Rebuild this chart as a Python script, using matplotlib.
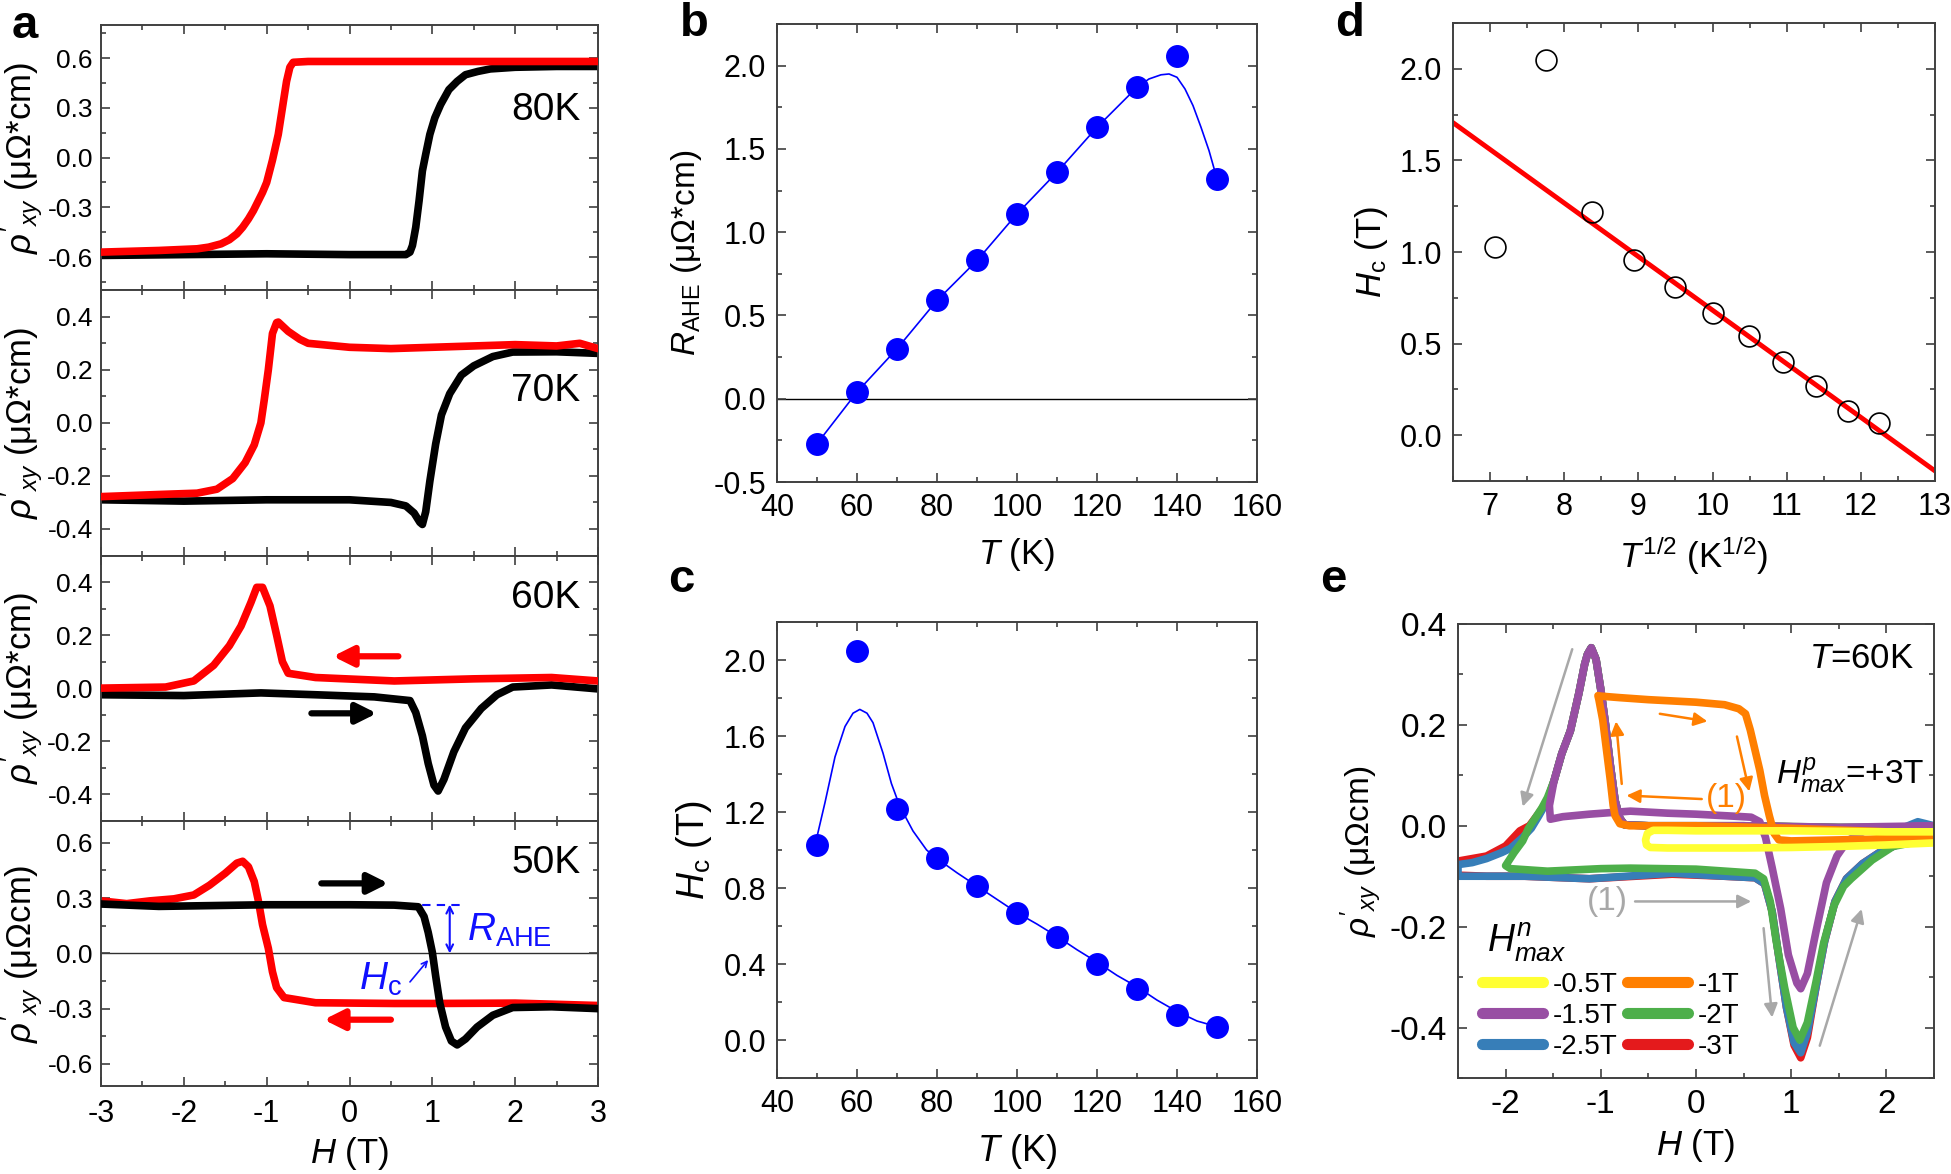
import matplotlib
matplotlib.use("Agg")
import matplotlib.pyplot as plt
from matplotlib.lines import Line2D
from matplotlib.ticker import MultipleLocator, FuncFormatter

plt.rcParams['font.family'] = ['Liberation Sans', 'DejaVu Sans']
plt.rcParams['mathtext.fontset'] = 'custom'
plt.rcParams['mathtext.rm'] = 'Liberation Sans'
plt.rcParams['mathtext.it'] = 'Liberation Sans:italic'
plt.rcParams['mathtext.bf'] = 'Liberation Sans:bold'
plt.rcParams['axes.linewidth'] = 1.4
plt.rcParams['axes.edgecolor'] = '#404040'
plt.rcParams['axes.unicode_minus'] = False

# ---------------- data: panel a ----------------
H80_up = [-3, -2, -1, 0, 0.5, 0.68, 0.73, 0.76, 0.80, 0.84, 0.88, 0.92, 0.97, 1.03, 1.1, 1.2, 1.3, 1.4, 1.55, 1.7, 2.0, 2.5, 3.0]
r80_up = [-0.59, -0.585, -0.58, -0.585, -0.585, -0.585, -0.57, -0.53, -0.42, -0.26, -0.08, 0.02, 0.14, 0.24, 0.32, 0.41, 0.46, 0.5, 0.52, 0.535, 0.545, 0.55, 0.55]
H80_dn = [3, 2, 1, 0, -0.5, -0.68, -0.72, -0.76, -0.81, -0.86, -0.93, -1.0, -1.05, -1.1, -1.16, -1.22, -1.29, -1.36, -1.45, -1.55, -1.7, -1.84, -2.3, -3]
r80_dn = [0.58, 0.58, 0.58, 0.58, 0.58, 0.575, 0.545, 0.46, 0.30, 0.14, -0.015, -0.15, -0.21, -0.26, -0.32, -0.37, -0.42, -0.46, -0.495, -0.52, -0.54, -0.55, -0.56, -0.57]

H70_up = [-3, -2, -1, 0, 0.5, 0.68, 0.78, 0.85, 0.88, 0.92, 0.97, 1.04, 1.11, 1.21, 1.35, 1.5, 1.73, 1.97, 2.5, 3]
r70_up = [-0.29, -0.295, -0.29, -0.29, -0.3, -0.313, -0.34, -0.375, -0.383, -0.335, -0.22, -0.08, 0.03, 0.11, 0.18, 0.215, 0.25, 0.267, 0.268, 0.262]
H70_dn = [3, 2.78, 2.5, 2, 1, 0.5, 0, -0.5, -0.6, -0.74, -0.86, -0.88, -0.93, -0.98, -1.03, -1.07, -1.15, -1.26, -1.41, -1.6, -1.84, -2.3, -3]
r70_dn = [0.28, 0.30, 0.29, 0.295, 0.285, 0.28, 0.285, 0.30, 0.315, 0.345, 0.38, 0.378, 0.337, 0.2, 0.085, 0.0, -0.083, -0.15, -0.21, -0.25, -0.265, -0.27, -0.278]

H60_up = [-3, -2, -1.07, -0.41, 0.3, 0.73, 0.8, 0.88, 0.95, 1.02, 1.07, 1.14, 1.26, 1.4, 1.59, 1.78, 1.97, 2.44, 3]
r60_up = [-0.025, -0.028, -0.018, -0.025, -0.033, -0.047, -0.092, -0.18, -0.284, -0.366, -0.388, -0.344, -0.24, -0.15, -0.077, -0.025, 0.004, 0.012, -0.003]
H60_dn = [3, 2.44, 1.5, 0.54, -0.41, -0.74, -0.81, -0.88, -0.96, -1.05, -1.12, -1.19, -1.31, -1.45, -1.64, -1.88, -2.22, -3]
r60_dn = [0.027, 0.04, 0.035, 0.027, 0.04, 0.056, 0.10, 0.20, 0.31, 0.38, 0.38, 0.323, 0.234, 0.16, 0.086, 0.027, 0.004, 0.0]

H50_up = [-3, -2.3, -1, 0, 0.54, 0.83, 0.9, 0.95, 1.0, 1.04, 1.09, 1.16, 1.23, 1.3, 1.4, 1.54, 1.73, 1.97, 2.44, 3]
r50_up = [0.268, 0.255, 0.264, 0.264, 0.262, 0.253, 0.2, 0.114, 0.006, -0.122, -0.27, -0.40, -0.476, -0.497, -0.465, -0.40, -0.336, -0.294, -0.29, -0.30]
H50_dn = [3, 2, 1, 0.54, -0.41, -0.79, -0.88, -0.93, -0.98, -1.05, -1.1, -1.15, -1.22, -1.29, -1.36, -1.5, -1.69, -1.88, -2.12, -2.41, -2.69, -3]
r50_dn = [-0.283, -0.27, -0.272, -0.272, -0.268, -0.24, -0.186, -0.10, 0.028, 0.156, 0.285, 0.39, 0.47, 0.50, 0.49, 0.435, 0.37, 0.317, 0.296, 0.285, 0.27, 0.285]

temps_a = ['80K', '70K', '60K', '50K']
ylims_a = [(-0.8, 0.8), (-0.5, 0.5), (-0.5, 0.5), (-0.72, 0.72)]
ystep_a = [0.3, 0.2, 0.2, 0.3]
ylabels_a = ["$\\rho'_{xy}$ (μΩ*cm)", "$\\rho'_{xy}$ (μΩ*cm)", "$\\rho'_{xy}$ (μΩ*cm)", "$\\rho'_{xy}$ (μΩcm)"]

# ---------------- data: panels b, c, d ----------------
T = [50, 60, 70, 80, 90, 100, 110, 120, 130, 140, 150]
R_AHE = [-0.27, 0.04, 0.30, 0.59, 0.83, 1.11, 1.36, 1.63, 1.87, 2.06, 1.32]
b_fit_T = [50, 60, 70, 80, 90, 100, 110, 120, 130, 133, 136, 138, 140, 142, 144, 146, 148, 150]
b_fit_R = [-0.27, 0.04, 0.30, 0.59, 0.83, 1.11, 1.36, 1.63, 1.87, 1.92, 1.945, 1.95, 1.93, 1.86, 1.76, 1.63, 1.49, 1.32]

Hc = [1.025, 2.046, 1.218, 0.959, 0.81, 0.669, 0.543, 0.40, 0.27, 0.134, 0.069]
c_fit_T = [50, 52, 54.5, 57, 59, 60.7, 62.5, 64, 66.5, 68.6, 70.7, 74, 77.4, 80, 85, 90, 95, 100, 105, 110, 115, 120, 125, 130, 135, 140, 145, 150]
c_fit_H = [1.07, 1.25, 1.49, 1.65, 1.72, 1.74, 1.72, 1.67, 1.51, 1.35, 1.23, 1.10, 1.0, 0.955, 0.88, 0.81, 0.74, 0.67, 0.61, 0.545, 0.475, 0.41, 0.34, 0.28, 0.21, 0.15, 0.10, 0.07]

sqrtT = [7.07, 7.75, 8.37, 8.94, 9.49, 10.0, 10.49, 10.95, 11.40, 11.83, 12.25]
d_fit_x = [6.5, 13.0]
d_fit_y = [1.706, -0.195]

# ---------------- data: panel e ----------------
e_labels = ['-0.5T', '-1T', '-1.5T', '-2T', '-2.5T', '-3T']
e_colors = ['#FFFF33', '#FF7F00', '#984EA3', '#4DAF4A', '#377EB8', '#E41A1C']

He_05 = [2.5, 2.0, 1.0, 0.0, -0.3, -0.45, -0.51, -0.53, -0.52, -0.48, -0.3, 0.0, 0.5, 1.0, 1.5, 2.0, 2.5]
re_05 = [-0.012, -0.012, -0.01, -0.01, -0.009, -0.009, -0.015, -0.028, -0.038, -0.043, -0.044, -0.044, -0.044, -0.043, -0.041, -0.038, -0.034]

He_10 = [2.5, 2.0, 1.0, 0.0, -0.5, -0.7, -0.8, -0.85, -0.87, -0.9, -0.94, -0.98, -1.02, -1.03,
         -1.0, -0.8, -0.5, 0.0, 0.3, 0.45, 0.52, 0.57, 0.62, 0.67, 0.72, 0.77, 0.82, 0.87, 1.0, 1.5, 2.0, 2.5]
re_10 = [-0.015, -0.012, -0.005, 0.0, 0.0, 0.0, 0.004, 0.02, 0.04, 0.09, 0.15, 0.21, 0.25, 0.258,
         0.257, 0.254, 0.25, 0.245, 0.24, 0.232, 0.222, 0.19, 0.15, 0.11, 0.06, 0.02, -0.015, -0.028, -0.03, -0.028, -0.026, -0.025]

He_15 = [2.5, 1.5, 0.5, 0.0, -0.5, -0.75, -0.8, -0.85, -0.9, -0.95, -1.0, -1.05, -1.1, -1.14, -1.17, -1.23, -1.32, -1.41, -1.49, -1.54,
         -1.53, -1.4, -1.12, -0.69, -0.3, 0.0, 0.4, 0.58, 0.67, 0.73, 0.8, 0.89, 0.97, 1.06, 1.1, 1.17, 1.26, 1.37, 1.48, 1.59, 1.76, 2.02, 2.5]
re_15 = [0.0, -0.003, 0.0, 0.0, 0.0, 0.002, 0.015, 0.05, 0.12, 0.2, 0.27, 0.33, 0.353, 0.34, 0.32, 0.263, 0.188, 0.143, 0.09, 0.04,
         0.013, 0.018, 0.023, 0.029, 0.025, 0.023, 0.019, 0.017, 0.008, -0.023, -0.083, -0.165, -0.256, -0.312, -0.323, -0.293, -0.21, -0.113, -0.06, -0.03, -0.011, -0.004, 0.0]

He_20 = [2.5, 1.5, 0.5, 0.0, -0.5, -0.75, -0.8, -0.85, -0.9, -0.95, -1.0, -1.05, -1.1, -1.14, -1.17, -1.23, -1.32, -1.41, -1.49, -1.56, -1.62, -1.69, -1.76, -1.82, -1.91, -2.0,
         -1.95, -1.56, -1.0, -0.69, 0.0, 0.62, 0.71, 0.78, 0.84, 0.93, 1.02, 1.09, 1.17, 1.26, 1.34, 1.45, 1.55, 1.63, 1.85, 2.07, 2.5]
re_20 = [-0.005, -0.003, 0.0, 0.0, 0.0, 0.002, 0.015, 0.05, 0.12, 0.2, 0.27, 0.33, 0.353, 0.34, 0.32, 0.263, 0.188, 0.143, 0.09, 0.056, 0.035, 0.015, -0.005, -0.03, -0.053, -0.079,
         -0.085, -0.09, -0.085, -0.084, -0.086, -0.094, -0.105, -0.15, -0.226, -0.32, -0.40, -0.425, -0.39, -0.31, -0.233, -0.158, -0.12, -0.105, -0.068, -0.041, -0.025]

He_25 = [2.5, 2.33, 2.2, 1.5, 0.5, 0.0, -0.5, -0.75, -0.8, -0.85, -0.9, -0.95, -1.0, -1.05, -1.1, -1.14, -1.17, -1.23, -1.32, -1.41, -1.49, -1.56, -1.65, -1.73, -1.82, -1.95, -2.04, -2.2, -2.35, -2.5,
         -2.5, -2.2, -1.8, -1.12, -0.25, 0.3, 0.62, 0.72, 0.8, 0.87, 0.95, 1.03, 1.1, 1.17, 1.26, 1.35, 1.46, 1.58, 1.75, 1.95, 2.15, 2.35, 2.5]
re_25 = [0.0, 0.008, -0.002, -0.004, 0.0, 0.0, 0.0, 0.002, 0.015, 0.05, 0.12, 0.2, 0.27, 0.33, 0.353, 0.34, 0.32, 0.263, 0.188, 0.143, 0.09, 0.05, 0.02, -0.005, -0.023, -0.045, -0.053, -0.065, -0.073, -0.077,
         -0.1, -0.1, -0.1, -0.105, -0.094, -0.1, -0.103, -0.115, -0.17, -0.26, -0.36, -0.43, -0.45, -0.41, -0.32, -0.23, -0.15, -0.105, -0.075, -0.05, -0.035, -0.025, -0.02]

He_30 = [2.5, 1.5, 0.5, 0.0, -0.5, -0.75, -0.8, -0.85, -0.9, -0.95, -1.0, -1.05, -1.1, -1.14, -1.17, -1.23, -1.32, -1.41, -1.49, -1.56, -1.65, -1.75, -1.85, -2.0, -2.2, -2.5, -3.0,
         -3.0, -2.5, -2.2, -1.8, -1.12, -0.25, 0.3, 0.62, 0.72, 0.8, 0.87, 0.95, 1.03, 1.1, 1.17, 1.26, 1.35, 1.46, 1.58, 1.75, 1.95, 2.15, 2.35, 2.5]
re_30 = [-0.003, -0.004, 0.0, 0.0, 0.0, 0.002, 0.015, 0.05, 0.12, 0.2, 0.27, 0.33, 0.353, 0.34, 0.32, 0.263, 0.188, 0.143, 0.09, 0.05, 0.025, 0.0, -0.01, -0.04, -0.06, -0.07, -0.08,
         -0.1, -0.098, -0.1, -0.1, -0.105, -0.096, -0.1, -0.103, -0.115, -0.17, -0.26, -0.36, -0.435, -0.46, -0.42, -0.32, -0.23, -0.15, -0.105, -0.075, -0.05, -0.035, -0.025, -0.02]

e_H = [He_05, He_10, He_15, He_20, He_25, He_30]
e_r = [re_05, re_10, re_15, re_20, re_25, re_30]

# annotation arrows (tail, head) in data coords
a60_red_arrow = ((0.59, 0.12), (-0.2, 0.12))
a60_blk_arrow = ((-0.46, -0.095), (0.33, -0.095))
a50_blk_arrow = ((-0.34, 0.38), (0.47, 0.38))
a50_red_arrow = ((0.5, -0.36), (-0.31, -0.36))
e_gray_arrows = [((-1.3, 0.35), (-1.82, 0.038)), ((-0.64, -0.15), (0.58, -0.15)),
                 ((0.71, -0.203), (0.8, -0.38)), ((1.3, -0.436), (1.74, -0.165))]
e_orange_arrows = [((-0.78, 0.083), (-0.84, 0.207)), ((-0.38, 0.222), (0.12, 0.207)),
                   ((0.43, 0.177), (0.56, 0.068)), ((0.06, 0.053), (-0.73, 0.06))]

# ---------------- figure ----------------
W, Hh = 1951, 1174
fig = plt.figure(figsize=(W / 100, Hh / 100), dpi=100)


def add_ax(l, t, r, b):
    return fig.add_axes([l / W, 1 - b / Hh, (r - l) / W, (b - t) / Hh])


def style(ax, fs=21, pad=7):
    ax.tick_params(which='both', direction='in', top=True, right=True, color='#404040', width=1.2)
    ax.tick_params(which='major', length=6.5, labelsize=fs, pad=pad)
    ax.tick_params(which='minor', length=3.5)


LAB = 25

# panel a
a_top, a_bot, a_l, a_r = 25, 1086, 101, 598
hstep = (a_bot - a_top) / 4
a_data = [(H80_up, r80_up, H80_dn, r80_dn), (H70_up, r70_up, H70_dn, r70_dn),
          (H60_up, r60_up, H60_dn, r60_dn), (H50_up, r50_up, H50_dn, r50_dn)]
axes_a = []
for i in range(4):
    ax = add_ax(a_l, a_top + i * hstep, a_r, a_top + (i + 1) * hstep)
    axes_a.append(ax)
    hu, ru, hd, rd = a_data[i]
    kw = dict(lw=5.5, solid_capstyle='round', solid_joinstyle='round')
    if i == 3:
        ax.axhline(0, color='#303030', lw=1.0, zorder=1)
        ax.plot(hd, rd, color='#FF0000', zorder=2, **kw)
        ax.plot(hu, ru, color='black', zorder=3, **kw)
    else:
        ax.plot(hu, ru, color='black', zorder=2, **kw)
        ax.plot(hd, rd, color='#FF0000', zorder=3, **kw)
    ax.set_xlim(-3, 3)
    ax.set_ylim(*ylims_a[i])
    st = ystep_a[i]
    ax.yaxis.set_major_locator(MultipleLocator(st))
    ax.yaxis.set_minor_locator(MultipleLocator(st / 2))
    ax.xaxis.set_major_locator(MultipleLocator(1))
    ax.xaxis.set_minor_locator(MultipleLocator(0.5))
    style(ax, fs=19, pad=6)
    ax.tick_params(axis='x', labelsize=22, pad=9)
    ax.yaxis.set_major_formatter(FuncFormatter(lambda v, p: "0.0" if abs(v) < 1e-9 else f"{v:.1f}"))
    ax.xaxis.set_major_formatter(FuncFormatter(lambda v, p: "0" if abs(v) < 1e-9 else f"{v:.0f}"))
    ax.set_ylabel(ylabels_a[i], fontsize=25, labelpad=2)
    if i < 3:
        ax.tick_params(axis='x', labelbottom=False)
    ax.text(0.965, [0.68, 0.62, 0.84, 0.84][i], temps_a[i], transform=ax.transAxes,
            ha='right', va='center', fontsize=28)
axes_a[3].set_xlabel('$H$ (T)', fontsize=LAB, labelpad=5)

arrow_kw = dict(arrowstyle='-|>', lw=4.5, mutation_scale=30, shrinkA=0, shrinkB=0)
ax = axes_a[2]
ax.annotate('', xy=a60_red_arrow[1], xytext=a60_red_arrow[0], arrowprops=dict(color='#FF0000', **arrow_kw))
ax.annotate('', xy=a60_blk_arrow[1], xytext=a60_blk_arrow[0], arrowprops=dict(color='black', **arrow_kw))
ax = axes_a[3]
ax.annotate('', xy=a50_blk_arrow[1], xytext=a50_blk_arrow[0], arrowprops=dict(color='black', **arrow_kw))
ax.annotate('', xy=a50_red_arrow[1], xytext=a50_red_arrow[0], arrowprops=dict(color='#FF0000', **arrow_kw))
ax.plot([0.52, 1.34], [0.265, 0.265], color='#1010FF', lw=1.5, ls=(0, (4, 3)))
ax.annotate('', xy=(1.21, 0.0), xytext=(1.21, 0.265),
            arrowprops=dict(arrowstyle='<->', color='#1010FF', lw=1.5, mutation_scale=12, shrinkA=0, shrinkB=0))
ax.text(1.42, 0.126, '$R_{\\rm AHE}$', color='#1010FF', fontsize=28, ha='left', va='center')
ax.text(0.12, -0.14, '$H_{\\rm c}$', color='#1010FF', fontsize=28, ha='left', va='center')
ax.annotate('', xy=(0.95, -0.036), xytext=(0.73, -0.155),
            arrowprops=dict(arrowstyle='->', color='#1010FF', lw=1.2, mutation_scale=10, shrinkA=0, shrinkB=0))

# panel b
axb = add_ax(777, 24, 1257, 482)
axb.axhline(0, color='black', lw=1.0, zorder=1)
axb.plot(b_fit_T, b_fit_R, color='#0000FF', lw=1.2, zorder=2)
axb.plot(T, R_AHE, 'o', color='#0000FF', ms=15.5, zorder=3)
axb.set_xlim(40, 160)
axb.set_ylim(-0.5, 2.25)
axb.xaxis.set_major_locator(MultipleLocator(20))
axb.xaxis.set_minor_locator(MultipleLocator(10))
axb.yaxis.set_major_locator(MultipleLocator(0.5))
axb.yaxis.set_minor_locator(MultipleLocator(0.25))
style(axb, fs=22, pad=8)
axb.set_xlabel('$T$ (K)', fontsize=LAB, labelpad=9)
axb.set_ylabel('$R_{\\rm AHE}$ (μΩ*cm)', fontsize=24, labelpad=7)

# panel c
axc = add_ax(777, 622, 1257, 1078)
axc.plot(c_fit_T, c_fit_H, color='#0000FF', lw=1.2, zorder=2)
axc.plot(T, Hc, 'o', color='#0000FF', ms=15.5, zorder=3)
axc.set_xlim(40, 160)
axc.set_ylim(-0.2, 2.2)
axc.xaxis.set_major_locator(MultipleLocator(20))
axc.xaxis.set_minor_locator(MultipleLocator(10))
axc.yaxis.set_major_locator(MultipleLocator(0.4))
axc.yaxis.set_minor_locator(MultipleLocator(0.2))
style(axc, fs=22, pad=8)
axc.set_xlabel('$T$ (K)', fontsize=LAB + 1, labelpad=9)
axc.set_ylabel('$H_{\\rm c}$ (T)', fontsize=27, labelpad=7)

# panel d
axd = add_ax(1453, 23, 1935, 481)
axd.plot(d_fit_x, d_fit_y, color='#FF0000', lw=3.5, zorder=2)
axd.plot(sqrtT, Hc, 'o', mfc='none', mec='black', mew=1.2, ms=15, zorder=3)
axd.set_xlim(6.5, 13)
axd.set_ylim(-0.25, 2.25)
axd.xaxis.set_major_locator(MultipleLocator(1))
axd.xaxis.set_minor_locator(MultipleLocator(0.5))
axd.yaxis.set_major_locator(MultipleLocator(0.5))
axd.yaxis.set_minor_locator(MultipleLocator(0.25))
style(axd, fs=22, pad=8)
axd.set_xlabel('$T^{1/2}$ (K$^{1/2}$)', fontsize=LAB, labelpad=9)
axd.set_ylabel('$H_{\\rm c}$ (T)', fontsize=25, labelpad=7)

# panel e
axe = add_ax(1458, 624, 1934, 1078)
order = [5, 4, 3, 2, 1, 0]
for k in order:
    axe.plot(e_H[k], e_r[k], color=e_colors[k], lw=5.5, solid_capstyle='round', solid_joinstyle='round')
axe.set_xlim(-2.5, 2.5)
axe.set_ylim(-0.5, 0.4)
axe.xaxis.set_major_locator(MultipleLocator(1))
axe.xaxis.set_minor_locator(MultipleLocator(0.5))
axe.yaxis.set_major_locator(MultipleLocator(0.2))
axe.yaxis.set_minor_locator(MultipleLocator(0.1))
style(axe, fs=24, pad=8)
axe.set_xlabel('$H$ (T)', fontsize=LAB, labelpad=5)
axe.set_ylabel("$\\rho'_{xy}$ (μΩcm)", fontsize=24, labelpad=4)

gray = '#A8A8A8'
for tail, head in e_gray_arrows:
    axe.annotate('', xy=head, xytext=tail,
                 arrowprops=dict(arrowstyle='-|>', color=gray, lw=1.8, mutation_scale=20, shrinkA=0, shrinkB=0))
for tail, head in e_orange_arrows:
    axe.annotate('', xy=head, xytext=tail,
                 arrowprops=dict(arrowstyle='-|>', color='#FF7F00', lw=1.8, mutation_scale=20, shrinkA=0, shrinkB=0))
axe.text(-0.93, -0.15, '(1)', color=gray, fontsize=24, ha='center', va='center')
axe.text(0.32, 0.055, '(1)', color='#FF7F00', fontsize=24, ha='center', va='center')
axe.text(0.957, 0.923, '$T$=60K', transform=axe.transAxes, fontsize=25, ha='right', va='center')
axe.text(0.98, 0.664, '$H^{p}_{max}$=+3T', transform=axe.transAxes, fontsize=24, ha='right', va='center')
axe.text(0.06, 0.30, '$H^{n}_{max}$', transform=axe.transAxes, fontsize=27, ha='left', va='center')

leg_handles = [Line2D([], [], color=e_colors[k], lw=8, solid_capstyle='round') for k in [0, 2, 4, 1, 3, 5]]
leg_labels = [e_labels[k] for k in [0, 2, 4, 1, 3, 5]]
axe.legend(leg_handles, leg_labels, ncol=2, loc='lower left', bbox_to_anchor=(0.05, 0.04),
           frameon=False, fontsize=20, handlelength=2.2, handletextpad=0.35, columnspacing=0.35,
           labelspacing=0.18, borderpad=0, borderaxespad=0)

# panel letters
for letter, (x, y) in zip('abcde', [(12, 4), (680, 2), (668, 558), (1335, 2), (1320, 558)]):
    fig.text(x / W, 1 - y / Hh, letter, fontsize=34, fontweight='bold', ha='left', va='top')

fig.savefig('out.png', dpi=100)
